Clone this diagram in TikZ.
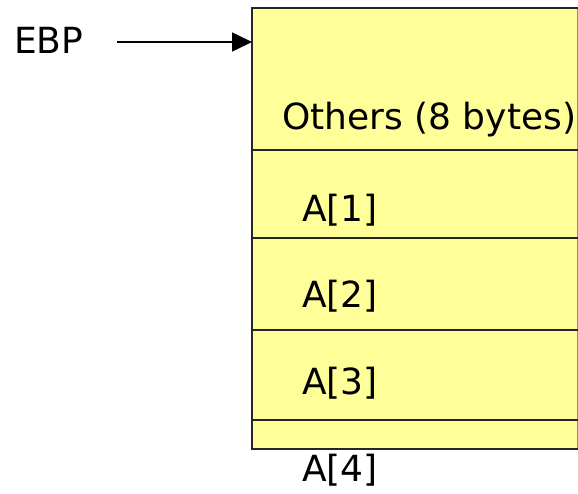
\documentclass[tikz,border=0pt]{standalone}
\usepackage{fontspec}
\setmainfont{DejaVu Sans}
\usetikzlibrary{arrows.meta}
\definecolor{cellfill}{HTML}{FFFF99}
\begin{document}
\begin{tikzpicture}[x=1pt,y=-1pt,
  lbl/.style={anchor=west,inner sep=0pt,font=\fontsize{36}{42}\selectfont},
  rule/.style={line width=1.8pt,black!85}]
\useasboundingbox (0,0) rectangle (578,493);
% stack frame
\fill[cellfill] (252,8) rectangle (578,449);
\draw[line width=0.8pt,black!45] (577.3,8) -- (577.3,449);
\draw[rule] (578,8) -- (252,8) -- (252,449) -- (578,449);
\foreach \y in {150,238,330,420} \draw[rule] (252,\y) -- (578,\y);
% labels
\node[lbl] (ebp) at (14,40) {EBP};
\node[lbl] (oth) at (282,120) {Others (8 bytes)};
\node[lbl] (a1) at (302,210) {A[1]};
\node[lbl] (a2) at (302,296) {A[2]};
\node[lbl] (a3) at (302,383) {A[3]};
\node[lbl] (a4) at (302,470) {A[4]};
% frame pointer
\coordinate (tail) at (117,42);
\coordinate (frame) at (252,42);
\draw[line width=1.5pt,-{Triangle[length=20pt,width=19pt]}] (tail) -- (frame);
\end{tikzpicture}
\end{document}
